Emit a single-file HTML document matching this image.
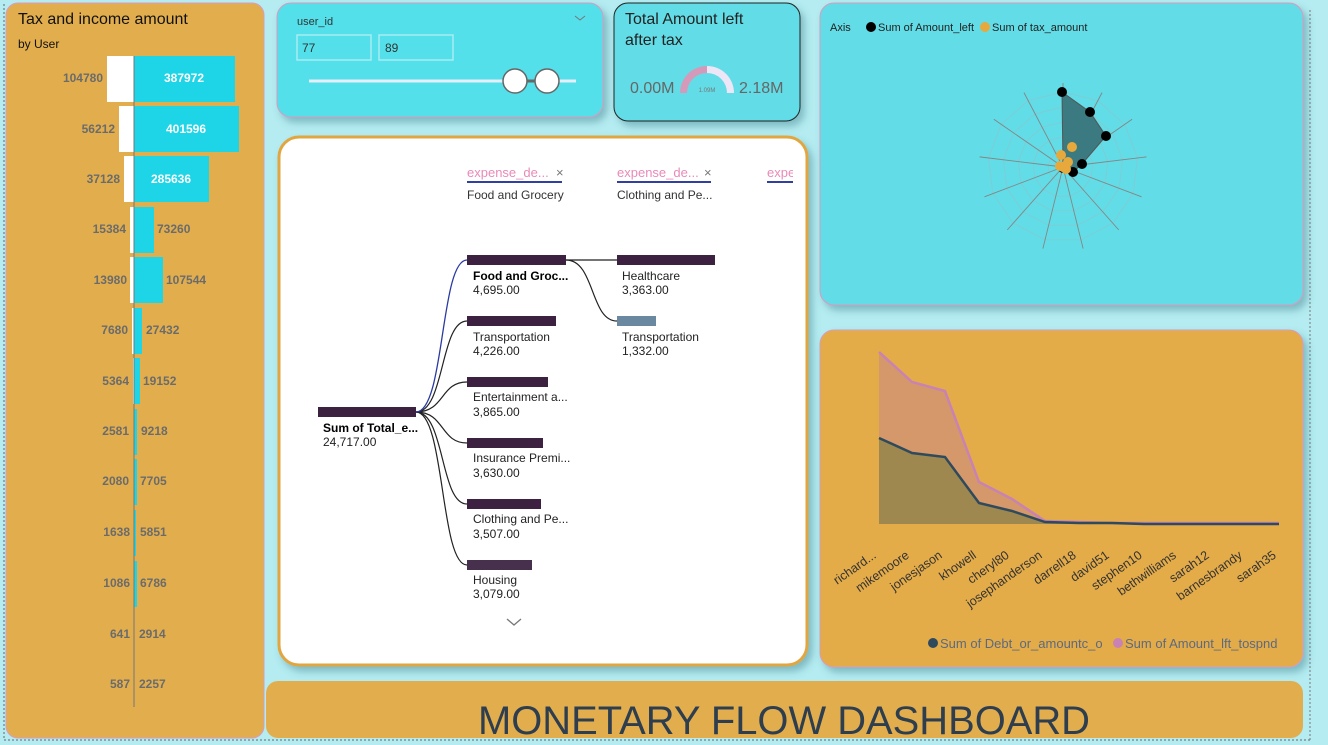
<!DOCTYPE html>
<html><head><meta charset="utf-8"><style>
html,body{margin:0;padding:0;background:#b4ecf1;width:1328px;height:745px;overflow:hidden;font-family:"Liberation Sans",sans-serif}
svg{display:block}
</style></head><body>
<svg id="s" width="1328" height="745" xmlns="http://www.w3.org/2000/svg" font-family="Liberation Sans, sans-serif">
<defs>
<filter id="sh" x="-10%" y="-10%" width="130%" height="130%"><feDropShadow dx="4" dy="5" stdDeviation="4" flood-color="#3a7d86" flood-opacity="0.45"/></filter>
</defs>
<rect width="1328" height="745" fill="#b4ecf1"/>
<line x1="4" y1="4" x2="4" y2="740" stroke="#666" stroke-dasharray="2,2"/>
<line x1="4" y1="740" x2="1310" y2="740" stroke="#666" stroke-dasharray="2,2"/>
<line x1="1310" y1="10" x2="1310" y2="740" stroke="#777" stroke-dasharray="2,2"/>

<!-- Left panel -->
<rect x="6" y="3" width="258" height="735" rx="12" fill="#e2ae4d" stroke="#d79cc0" stroke-width="1"/>
<text x="18" y="24" font-size="16" fill="#111">Tax and income amount</text>
<text x="18" y="48" font-size="12" fill="#111">by User</text>
<g font-size="12" font-weight="bold" fill="#6b6b6b">
<rect x="107" y="56" width="27" height="46" fill="#fff"/><rect x="134" y="56" width="101" height="46" fill="#1dd5e6"/>
<text x="103" y="82" text-anchor="end">104780</text><text x="184" y="82" text-anchor="middle" fill="#fff">387972</text>
<rect x="119" y="106" width="15" height="46" fill="#fff"/><rect x="134" y="106" width="105" height="46" fill="#1dd5e6"/>
<text x="115" y="133" text-anchor="end">56212</text><text x="186" y="133" text-anchor="middle" fill="#fff">401596</text>
<rect x="124" y="156" width="10" height="46" fill="#fff"/><rect x="134" y="156" width="75" height="46" fill="#1dd5e6"/>
<text x="120" y="183" text-anchor="end">37128</text><text x="171" y="183" text-anchor="middle" fill="#fff">285636</text>
<rect x="130" y="207" width="4" height="46" fill="#fff"/><rect x="134" y="207" width="20" height="46" fill="#1dd5e6"/>
<text x="126" y="233" text-anchor="end">15384</text><text x="157" y="233">73260</text>
<rect x="130" y="257" width="4" height="46" fill="#fff"/><rect x="134" y="257" width="29" height="46" fill="#1dd5e6"/>
<text x="127" y="284" text-anchor="end">13980</text><text x="166" y="284">107544</text>
<rect x="132" y="308" width="2" height="46" fill="#fff"/><rect x="134" y="308" width="8" height="46" fill="#1dd5e6"/>
<text x="128" y="334" text-anchor="end">7680</text><text x="146" y="334">27432</text>
<rect x="133" y="358" width="1" height="46" fill="#fff"/><rect x="134" y="358" width="6" height="46" fill="#1dd5e6"/>
<text x="129" y="385" text-anchor="end">5364</text><text x="143" y="385">19152</text>
<rect x="134" y="409" width="3" height="46" fill="#1dd5e6"/>
<text x="129" y="435" text-anchor="end">2581</text><text x="141" y="435">9218</text>
<rect x="134" y="459" width="3" height="46" fill="#1dd5e6"/>
<text x="129" y="485" text-anchor="end">2080</text><text x="140" y="485">7705</text>
<rect x="134" y="510" width="2" height="46" fill="#1dd5e6"/>
<text x="130" y="536" text-anchor="end">1638</text><text x="140" y="536">5851</text>
<rect x="134" y="561" width="3" height="46" fill="#1dd5e6"/>
<text x="130" y="587" text-anchor="end">1086</text><text x="140" y="587">6786</text>
<text x="130" y="638" text-anchor="end">641</text><text x="139" y="638">2914</text>
<text x="130" y="688" text-anchor="end">587</text><text x="139" y="688">2257</text>
</g>
<line x1="134" y1="56" x2="134" y2="707" stroke="#777" stroke-width="1"/>

<!-- Slicer -->
<rect x="277" y="3" width="326" height="114" rx="14" fill="#52e0ea" stroke="#d79cc0" filter="url(#sh)"/>
<text x="297" y="25" font-size="11" fill="#333">user_id</text>
<path d="M575 16 l5 4 l5 -4" fill="none" stroke="#777"/>
<rect x="297" y="35" width="74" height="25" fill="none" stroke="#a8eef2" stroke-width="1.5"/>
<rect x="379" y="35" width="74" height="25" fill="none" stroke="#a8eef2" stroke-width="1.5"/>
<text x="302" y="52" font-size="12" fill="#333">77</text>
<text x="385" y="52" font-size="12" fill="#333">89</text>
<line x1="309" y1="81" x2="576" y2="81" stroke="#e8eef8" stroke-width="3"/>
<line x1="515" y1="81" x2="547" y2="81" stroke="#666" stroke-width="3"/>
<circle cx="515" cy="81" r="12" fill="#fff" stroke="#666" stroke-width="1.5"/>
<circle cx="547" cy="81" r="12" fill="#fff" stroke="#666" stroke-width="1.5"/>

<!-- Card -->
<rect x="614" y="3" width="186" height="118" rx="14" fill="#62dce6" stroke="#222" filter="url(#sh)"/>
<text x="625" y="24" font-size="16" fill="#222">Total Amount left</text>
<text x="625" y="45" font-size="16" fill="#222">after tax</text>
<path d="M680 93 A27 27 0 0 1 707 66 L707 73 A20 20 0 0 0 687 93 Z" fill="#d59ab9"/>
<path d="M707 66 A27 27 0 0 1 734 93 L727 93 A20 20 0 0 0 707 73 Z" fill="#ece6f6"/>
<text x="707" y="92" font-size="6" fill="#777" text-anchor="middle">1.09M</text>
<text x="630" y="93" font-size="16" fill="#666">0.00M</text>
<text x="739" y="93" font-size="16" fill="#666">2.18M</text>

<!-- Radar panel -->
<rect x="820" y="3" width="483" height="302" rx="14" fill="#62dce6" stroke="#d79cc0" filter="url(#sh)"/>
<text x="830" y="31" font-size="11" fill="#222">Axis</text>
<circle cx="871" cy="27" r="5" fill="#000"/><text x="878" y="31" font-size="11" fill="#222">Sum of Amount_left</text>
<circle cx="985" cy="27" r="5" fill="#e8a93c"/><text x="992" y="31" font-size="11" fill="#222">Sum of tax_amount</text>
<g id="radar"></g>

<!-- Line chart panel -->
<rect x="820" y="330" width="483" height="337" rx="14" fill="#e4ab48" stroke="#d79cc0" filter="url(#sh)"/>
<polygon points="879,352 912,382 945,391 979,482 1012,499 1045,521 1079,522 1112,523 1145,523 1179,523 1212,523 1245,523 1279,523 1279,524 879,524" fill="#d5986a"/>
<polygon points="879,438 912,453 945,457 979,503 1012,511 1045,522 1079,523 1112,523 1145,524 1179,524 1212,524 1245,524 1279,524 879,524" fill="#9f884f"/>
<polyline points="879,352 912,382 945,391 979,482 1012,499 1045,521 1079,522 1112,523 1145,523 1179,523 1212,523 1245,523 1279,523" fill="none" stroke="#c882b4" stroke-width="2.5"/>
<polyline points="879,438 912,453 945,457 979,503 1012,511 1045,522 1079,523 1112,523 1145,524 1179,524 1212,524 1245,524 1279,524" fill="none" stroke="#2f4a5c" stroke-width="2.5"/>
<g font-size="12.5" fill="#333" text-anchor="end">
<text transform="translate(877,557) rotate(-35)">richard...</text>
<text transform="translate(910,557) rotate(-35)">mikemoore</text>
<text transform="translate(943,557) rotate(-35)">jonesjason</text>
<text transform="translate(977,557) rotate(-35)">khowell</text>
<text transform="translate(1010,557) rotate(-35)">cheryl80</text>
<text transform="translate(1043,557) rotate(-35)">josephanderson</text>
<text transform="translate(1077,557) rotate(-35)">darrell18</text>
<text transform="translate(1110,557) rotate(-35)">david51</text>
<text transform="translate(1143,557) rotate(-35)">stephen10</text>
<text transform="translate(1177,557) rotate(-35)">bethwilliams</text>
<text transform="translate(1210,557) rotate(-35)">sarah12</text>
<text transform="translate(1243,557) rotate(-35)">barnesbrandy</text>
<text transform="translate(1277,557) rotate(-35)">sarah35</text>
</g>
<circle cx="933" cy="643" r="5" fill="#2f4a5c"/><text x="940" y="648" font-size="13" fill="#5b6a80">Sum of Debt_or_amountc_o</text>
<circle cx="1118" cy="643" r="5" fill="#c882b4"/><text x="1125" y="648" font-size="13" fill="#5b6a80">Sum of Amount_lft_tospnd</text>

<!-- Decomposition tree -->
<rect x="279" y="137" width="528" height="528" rx="20" fill="#fff" stroke="#e2a640" stroke-width="3" filter="url(#sh)"/>
<g font-size="13">
<text x="467" y="177" fill="#e88ab8">expense_de...</text><text x="556" y="177" fill="#777">×</text>
<line x1="467" y1="182" x2="562" y2="182" stroke="#3040a0" stroke-width="2"/>
<text x="467" y="199" font-size="12" fill="#333">Food and Grocery</text>
<text x="617" y="177" fill="#e88ab8">expense_de...</text><text x="704" y="177" fill="#777">×</text>
<line x1="617" y1="182" x2="711" y2="182" stroke="#3040a0" stroke-width="2"/>
<text x="617" y="199" font-size="12" fill="#333">Clothing and Pe...</text>
<svg x="767" y="160" width="26" height="30"><text x="0" y="17" fill="#e88ab8" font-size="13">expense</text><line x1="0" y1="22" x2="26" y2="22" stroke="#3040a0" stroke-width="2"/></svg>
</g>
<g fill="none" stroke="#222" stroke-width="1.2">
<path d="M416 412 C445 412 440 321 467 321"/>
<path d="M416 412 C445 412 440 382 467 382"/>
<path d="M416 412 C445 412 440 443 467 443"/>
<path d="M416 412 C445 412 440 504 467 504"/>
<path d="M416 412 C445 412 440 565 467 565"/>
<path d="M566 260 L617 260"/>
<path d="M566 260 C595 260 590 321 617 321"/>
</g>
<path d="M416 412 C445 412 440 260 467 260" fill="none" stroke="#2a3aa0" stroke-width="1.3"/>
<g fill="#3d2140">
<rect x="318" y="407" width="98" height="10"/>
<rect x="467" y="255" width="99" height="10"/>
<rect x="467" y="316" width="89" height="10"/>
<rect x="467" y="377" width="81" height="10"/>
<rect x="467" y="438" width="76" height="10"/>
<rect x="467" y="499" width="74" height="10"/>
<rect x="467" y="560" width="65" height="10" fill="#47304e"/>
<rect x="617" y="255" width="98" height="10"/>
<rect x="617" y="316" width="39" height="10" fill="#6a88a0"/>
</g>
<g font-size="12" fill="#222">
<text x="323" y="432" font-weight="bold" fill="#000">Sum of Total_e...</text><text x="323" y="446">24,717.00</text>
<text x="473" y="280" font-weight="bold" fill="#000">Food and Groc...</text><text x="473" y="294">4,695.00</text>
<text x="473" y="341">Transportation</text><text x="473" y="355">4,226.00</text>
<text x="473" y="401">Entertainment a...</text><text x="473" y="416">3,865.00</text>
<text x="473" y="462">Insurance Premi...</text><text x="473" y="477">3,630.00</text>
<text x="473" y="523">Clothing and Pe...</text><text x="473" y="538">3,507.00</text>
<text x="473" y="584">Housing</text><text x="473" y="598">3,079.00</text>
<text x="622" y="280">Healthcare</text><text x="622" y="294">3,363.00</text>
<text x="622" y="341">Transportation</text><text x="622" y="355">1,332.00</text>
</g>
<path d="M507 619 l7 6 l7 -6" fill="none" stroke="#777" stroke-width="1.3"/>

<!-- Title banner -->
<rect x="266" y="681" width="1037" height="57" rx="12" fill="#e2ae4d"/>
<text x="784" y="734" font-size="40" fill="#2e3e4e" text-anchor="middle" textLength="612" lengthAdjust="spacingAndGlyphs">MONETARY FLOW DASHBOARD</text>
</svg>
<script>
(function(){
var g=document.getElementById('radar'),cx=1063,cy=167,R=84,n=13,h='';
function pt(i,r){var a=i*2*Math.PI/n;return [cx+r*Math.sin(a),cy-r*Math.cos(a)];}
for(var k=1;k<=5;k++){var p=[];for(var i=0;i<n;i++){p.push(pt(i,75*k/5).join(','));}h+='<polygon points="'+p.join(' ')+'" fill="none" stroke="#86c8cf" stroke-width="0.7"/>';}
for(var i=0;i<n;i++){var q=pt(i,R);h+='<line x1="'+cx+'" y1="'+cy+'" x2="'+q[0]+'" y2="'+q[1]+'" stroke="#858585" stroke-width="0.9"/>';}
h+='<polygon points="1062,92 1090,112 1106,136 1082,164 1073,172 1063,167" fill="#3a7a80"/>';
h+='<polyline points="1063,167 1062,92 1090,112 1106,136 1082,164 1073,172 1063,167" fill="none" stroke="#555" stroke-width="1"/>';
[[1062,92],[1090,112],[1106,136],[1082,164],[1073,172],[1063,168]].forEach(function(c){h+='<circle cx="'+c[0]+'" cy="'+c[1]+'" r="5" fill="#000"/>';});
[[1072,147],[1061,155],[1068,162],[1063,167],[1060,166],[1066,169]].forEach(function(c){h+='<circle cx="'+c[0]+'" cy="'+c[1]+'" r="5" fill="#e8a93c"/>';});
g.innerHTML=h;
})();
</script>
</body></html>
